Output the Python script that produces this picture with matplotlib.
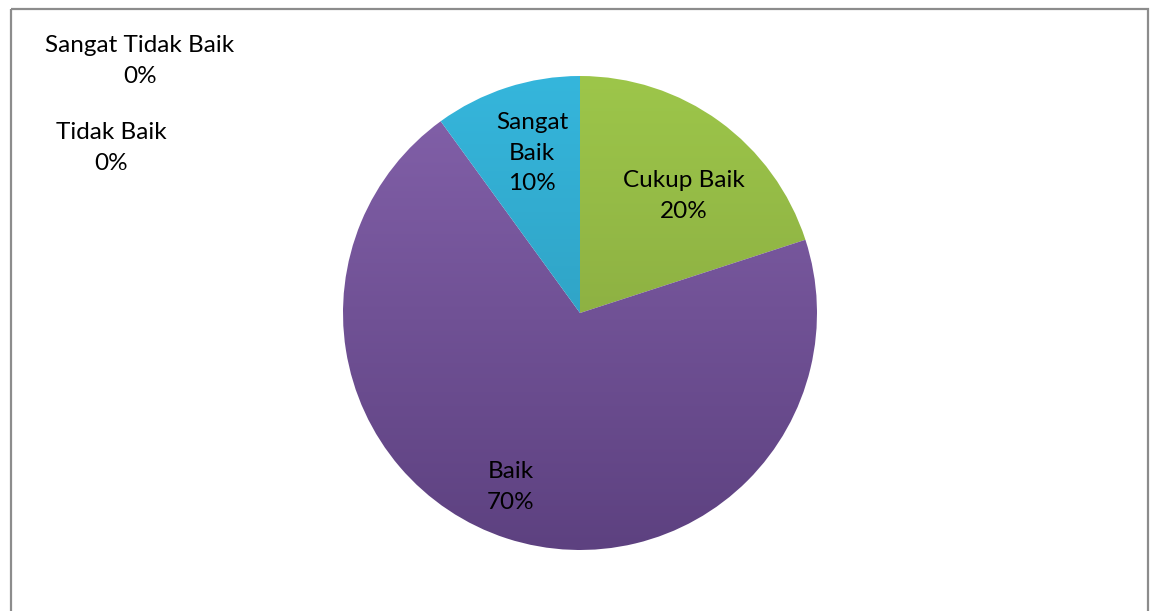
import numpy as np
import matplotlib.pyplot as plt
from matplotlib.colors import LinearSegmentedColormap
from matplotlib.patches import Rectangle

# data
categories = ['Cukup Baik', 'Baik', 'Sangat Baik', 'Sangat Tidak Baik', 'Tidak Baik']
values = [20, 70, 10, 0, 0]
label_text = ['Cukup Baik\n20%', 'Baik\n70%', 'Sangat\nBaik\n10%',
              'Sangat Tidak Baik\n0%', 'Tidak Baik\n0%']
# colours top -> bottom of the pie (vertical gradient)
grad = [('#9dc64a', '#7f9d3c'), ('#8462ab', '#5d4180'), ('#35b6dc', '#2b93b2'),
        ('#c0504d', '#c0504d'), ('#4f81bd', '#4f81bd')]
label_pos = [(684, 196), (511, 487), (532, 153), (140, 61), (111, 148)]

plt.rcParams['font.family'] = ['Lato', 'DejaVu Sans']

fig = plt.figure(figsize=(11.54, 6.11), dpi=100)
ax = fig.add_axes([0, 0, 1, 1])

cx, cy, r = 580, 313, 237
wedges, _ = ax.pie(values, startangle=-90, counterclock=True,
                   center=(cx, cy), radius=r, frame=True,
                   wedgeprops=dict(linewidth=0))

for w, (c1, c2) in zip(wedges, grad):
    w.set_facecolor('none')
    cmap = LinearSegmentedColormap.from_list('g', [c1, c2])
    im = ax.imshow(np.linspace(0, 1, 256).reshape(-1, 1), cmap=cmap, aspect='auto',
                   extent=(cx - r, cx + r, cy + r, cy - r), zorder=1)
    im.set_clip_path(w)

for txt, (x, y) in zip(label_text, label_pos):
    ax.text(x, y, txt, ha='center', va='center', fontsize=17.5, linespacing=1.55,
            color='black', zorder=5)

ax.add_patch(Rectangle((11, 9), 1137, 640, fill=False, edgecolor='#8c8c8c',
                       linewidth=1.6, zorder=6))
ax.set_aspect('auto')
ax.set_xlim(0, 1154)
ax.set_ylim(611, 0)
ax.axis('off')

fig.savefig('out.png', dpi=100)
